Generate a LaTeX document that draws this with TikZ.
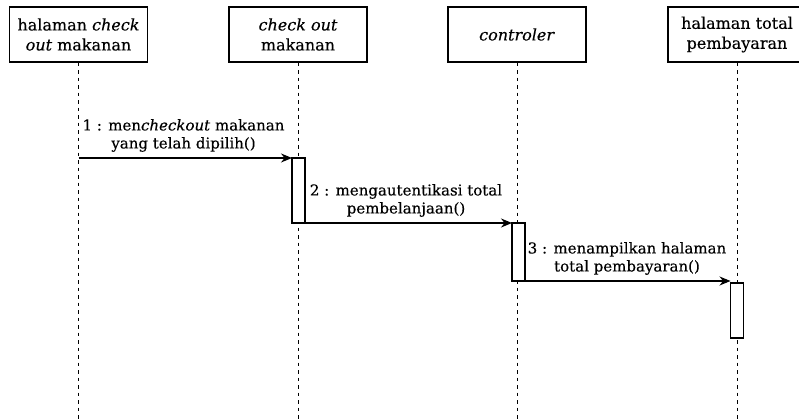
\documentclass[tikz,border=0pt]{standalone}
\usepackage{fontspec}
\setmainfont{DejaVu Serif}[FakeBold=0.3]
\usetikzlibrary{positioning,arrows.meta}

\tikzset{
    objbox/.style={draw, line width=1.2pt, minimum width=138pt, minimum height=55pt,
        align=center, inner sep=1pt, font=\fontsize{16}{20}\selectfont},
    lifeline/.style={line width=1pt, dash pattern=on 3.5pt off 4pt},
    actbox/.style={draw, line width=1.2pt, fill=white, minimum width=13pt,
        inner sep=0pt, outer sep=0pt, anchor=north},
    msg/.style={-{Stealth[length=11pt,width=9pt]}, line width=1.2pt},
    msglabel/.style={align=center, font=\fontsize{15}{18}\selectfont, inner sep=1pt}
}

\begin{document}
\begin{tikzpicture}[x=1pt,y=-1pt]
    \useasboundingbox (0,0) rectangle (799,419);
    \clip (0,0) rectangle (799,419);
    % objects
    \node[objbox] (halcheck) at (78.5,34.5) {halaman \textit{check}\\\textit{out} makanan};
    \node[objbox] (check) at (298,34.5) {\textit{check out}\\makanan};
    \node[objbox] (ctrl) at (517,34.5) {\textit{controler}};
    \node[objbox] (haltotal) at (737,34.5) {halaman total\\pembayaran};
    % lifelines
    \foreach \o in {halcheck,check,ctrl,haltotal}
        \draw[lifeline] (\o.south) -- (\o.south |- 0,419);
    % activations
    \node[actbox, minimum height=65pt] (act1) at (298.5,158) {};
    \node[actbox, minimum height=58pt] (act2) at (518.5,223) {};
    \node[actbox, minimum height=55pt] (act3) at (737,283) {};
    % messages
    \coordinate (m1) at (halcheck.south |- act1.north);
    \draw[msg] (m1) -- (act1.north west);
    \node[msglabel, above=5pt of m1, xshift=105pt] (lbl1) {1 : men\textit{checkout} makanan\\yang telah dipilih()};
    \draw[msg] (act1.south east) -- (act2.north west);
    \node[msglabel, above=5pt of act1.south east, xshift=101pt] (lbl2) {2 : mengautentikasi total\\pembelanjaan()};
    \draw[msg] (act2.south east) -- (act3.north west |- act2.south east);
    \node[msglabel, above=5pt of act2.south east, xshift=102pt] (lbl3) {3 : menampilkan halaman\\total pembayaran()};
\end{tikzpicture}
\end{document}
